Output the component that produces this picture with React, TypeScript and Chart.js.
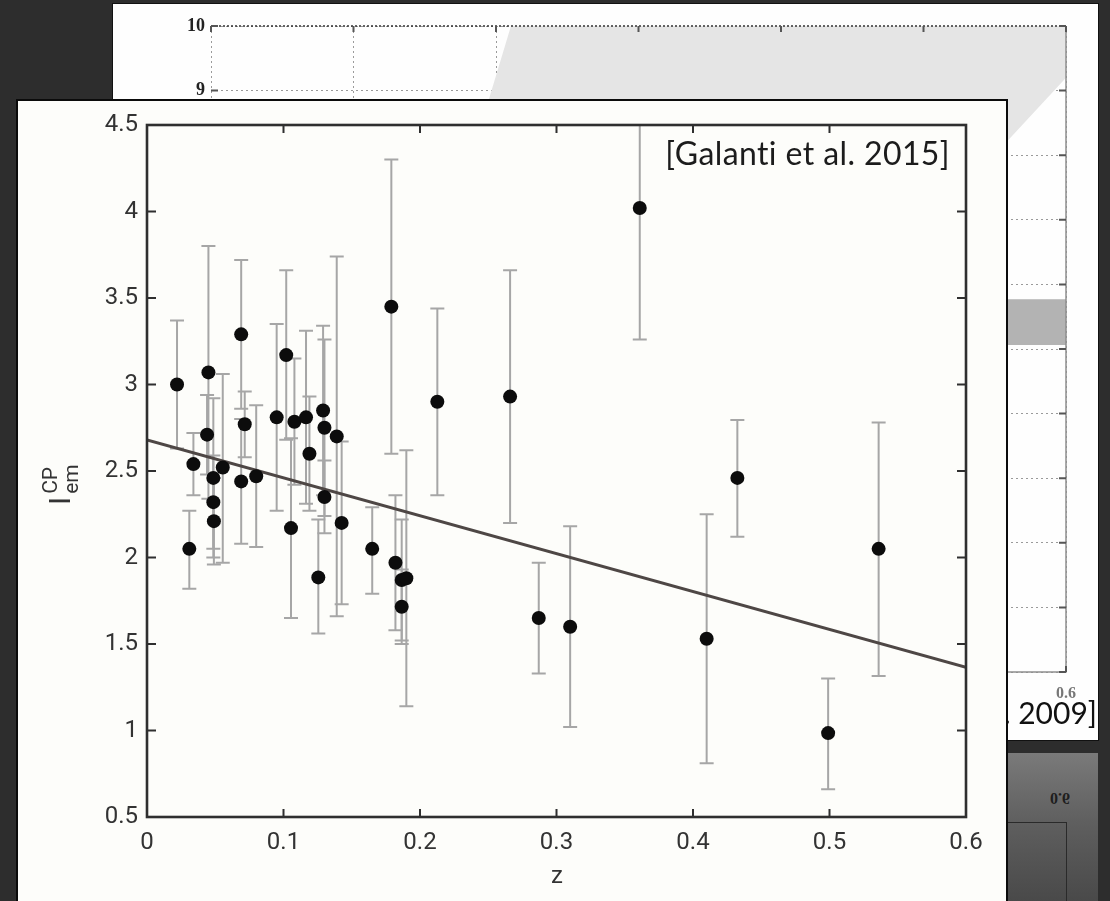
import React, { useEffect, useRef } from "react";
import { Chart, registerables } from "chart.js";

Chart.register(...registerables);

// ---------- main chart data (Galanti et al. 2015) ----------
const redshift = [0.022, 0.031, 0.034, 0.045, 0.044, 0.0486, 0.0486, 0.049, 0.0555, 0.069, 0.0716, 0.069, 0.080, 0.095, 0.102, 0.1055, 0.108, 0.1165, 0.119, 0.129, 0.130, 0.130, 0.139, 0.1426, 0.1255, 0.165, 0.182, 0.1866, 0.190, 0.1866, 0.179, 0.2127, 0.266, 0.361, 0.287, 0.310, 0.410, 0.4325, 0.499, 0.536];
const emissivity = [3.00, 2.05, 2.54, 3.07, 2.71, 2.46, 2.32, 2.21, 2.52, 3.29, 2.77, 2.44, 2.47, 2.81, 3.17, 2.17, 2.785, 2.81, 2.60, 2.85, 2.75, 2.35, 2.70, 2.20, 1.885, 2.05, 1.97, 1.87, 1.88, 1.715, 3.45, 2.90, 2.93, 4.02, 1.65, 1.60, 1.53, 2.46, 0.985, 2.05];
const errorHigh = [3.37, 2.27, 2.72, 3.80, 2.94, 2.92, 2.59, 2.46, 3.06, 3.72, 2.96, 2.80, 2.88, 3.35, 3.66, 2.69, 3.15, 3.31, 2.93, 3.34, 3.26, 2.56, 3.74, 2.67, 2.22, 2.29, 2.36, 2.22, 2.62, 1.93, 4.30, 3.44, 3.66, 4.78, 1.97, 2.18, 2.25, 2.795, 1.30, 2.78];
const errorLow = [2.63, 1.82, 2.36, 2.34, 2.48, 2.00, 2.05, 1.96, 1.97, 2.86, 2.58, 2.08, 2.06, 2.27, 2.68, 1.65, 2.42, 2.31, 2.27, 2.36, 2.24, 2.14, 1.66, 1.73, 1.56, 1.79, 1.58, 1.52, 1.14, 1.50, 2.60, 2.36, 2.20, 3.26, 1.33, 1.02, 0.81, 2.12, 0.66, 1.315];
const fitZ = [0, 0.6];
const fitEm = [2.68, 1.365];
const zTicks = [0, 0.1, 0.2, 0.3, 0.4, 0.5, 0.6];
const emTicks = [0.5, 1, 1.5, 2, 2.5, 3, 3.5, 4, 4.5];
const citationMain = "[Galanti et al. 2015]";
const xTitle = "z";

// ---------- background slide chart data ----------
const backZTicks = [0, 0.1, 0.2, 0.3, 0.4, 0.5, 0.6];
const backYTicks = [0, 1, 2, 3, 4, 5, 6, 7, 8, 9, 10];
const lightRegionZ = [0.2105, 0.6, 0.6, 0.561, 0.5, 0.25, 0.19, 0.2105];
const lightRegionY = [10, 10, 9.2, 8.27, 6.8, 6.8, 8.5, 10];
const bandZ = [0.45, 0.6, 0.6, 0.45, 0.45];
const bandY = [5.77, 5.77, 5.06, 5.06, 5.77];
const citationBack = "et al. 2009]";

const TICK_FONT = "Roboto, 'Liberation Sans', sans-serif";
const SERIF = "'Liberation Serif', 'DejaVu Serif', serif";

function MainChart() {
  const ref = useRef<HTMLCanvasElement>(null);
  useEffect(() => {
    const canvas = ref.current!;
    const errorBars = {
      id: "errorBars",
      beforeDatasetsDraw(chart: any) {
        const { ctx, chartArea, scales } = chart;
        const x = scales.x, y = scales.y;
        ctx.save();
        ctx.beginPath();
        ctx.rect(chartArea.left, chartArea.top, chartArea.right - chartArea.left, chartArea.bottom - chartArea.top);
        ctx.clip();
        ctx.strokeStyle = "#a6a6a6";
        ctx.lineWidth = 2;
        for (let i = 0; i < redshift.length; i++) {
          const px = x.getPixelForValue(redshift[i]);
          const top = y.getPixelForValue(errorHigh[i]);
          const bot = y.getPixelForValue(errorLow[i]);
          ctx.beginPath();
          ctx.moveTo(px, top); ctx.lineTo(px, bot);
          ctx.moveTo(px - 7, top); ctx.lineTo(px + 7, top);
          ctx.moveTo(px - 7, bot); ctx.lineTo(px + 7, bot);
          ctx.stroke();
        }
        ctx.restore();
      },
    };
    const frame = {
      id: "frame",
      afterDraw(chart: any) {
        const { ctx, chartArea, scales } = chart;
        const { left, right, top, bottom } = chartArea;
        const x = scales.x, y = scales.y;
        ctx.save();
        ctx.strokeStyle = "#2f2f2f";
        ctx.lineWidth = 2;
        for (const v of zTicks.slice(1, -1)) {
          const px = x.getPixelForValue(v);
          ctx.beginPath();
          ctx.moveTo(px, bottom); ctx.lineTo(px, bottom - 8);
          ctx.moveTo(px, top); ctx.lineTo(px, top + 8);
          ctx.stroke();
        }
        for (const v of emTicks.slice(1, -1)) {
          const py = y.getPixelForValue(v);
          ctx.beginPath();
          ctx.moveTo(left, py); ctx.lineTo(left + 9, py);
          ctx.moveTo(right, py); ctx.lineTo(right - 9, py);
          ctx.stroke();
        }
        ctx.lineWidth = 2.6;
        ctx.strokeRect(left, top, right - left, bottom - top);

        // x title
        ctx.fillStyle = "#333";
        ctx.font = `24px ${TICK_FONT}`;
        ctx.textAlign = "center";
        ctx.textBaseline = "alphabetic";
        ctx.fillText(xTitle, (left + right) / 2 + 0.5, 782);

        // y title: I_em^CP rotated
        ctx.save();
        ctx.translate(52, 404);
        ctx.rotate(-Math.PI / 2);
        ctx.textAlign = "left";
        ctx.font = `30px ${TICK_FONT}`;
        ctx.fillText("I", 0, 0);
        const w = ctx.measureText("I").width;
        ctx.font = `21px ${TICK_FONT}`;
        ctx.fillText("CP", w + 3, -13);
        ctx.fillText("em", w + 3, 8);
        ctx.restore();

        // citation
        ctx.fillStyle = "#1c1c1c";
        ctx.font = "32px Lato, 'Open Sans', sans-serif";
        (ctx as any).letterSpacing = "0.4px";
        ctx.textAlign = "right";
        ctx.fillText(citationMain, 932, 64);
        ctx.restore();
      },
    };
    const chart = new Chart(canvas, {
      type: "line",
      data: {
        datasets: [
          {
            label: "fit",
            data: fitZ.map((z, i) => ({ x: z, y: fitEm[i] })),
            borderColor: "#4e4745",
            borderWidth: 3,
            pointRadius: 0,
            fill: false,
            order: 2,
          },
          {
            label: "clusters",
            data: redshift.map((z, i) => ({ x: z, y: emissivity[i] })),
            showLine: false,
            pointRadius: 7,
            pointBackgroundColor: "#0c0c0c",
            pointBorderColor: "#0c0c0c",
            pointBorderWidth: 0,
            order: 1,
          },
        ],
      } as any,
      options: {
        animation: false,
        responsive: false,
        devicePixelRatio: 1,
        layout: { padding: { top: 24, right: 40, left: 0, bottom: 0 } },
        plugins: { legend: { display: false }, tooltip: { enabled: false } },
        scales: {
          x: {
            type: "linear",
            min: 0,
            max: 0.6,
            afterBuildTicks: (s: any) => { s.ticks = zTicks.map((v) => ({ value: v })); },
            afterFit: (s: any) => { s.height = 84; },
            grid: { display: false, drawTicks: false },
            border: { display: false },
            ticks: { font: { family: TICK_FONT, size: 24 }, color: "#333", padding: 12, maxRotation: 0, callback: (v: any) => String(v) },
          },
          y: {
            type: "linear",
            min: 0.5,
            max: 4.5,
            afterBuildTicks: (s: any) => { s.ticks = emTicks.map((v) => ({ value: v })); },
            afterFit: (s: any) => { s.width = 129; },
            grid: { display: false, drawTicks: false },
            border: { display: false },
            ticks: { font: { family: TICK_FONT, size: 24 }, color: "#333", padding: 9, callback: (v: any) => String(v) },
          },
        },
      } as any,
      plugins: [errorBars, frame],
    });
    return () => chart.destroy();
  }, []);
  return <canvas ref={ref} width={988} height={800} style={{ position: "absolute", left: 0, top: 0, width: 988, height: 800 }} />;
}

function BackChart() {
  const ref = useRef<HTMLCanvasElement>(null);
  useEffect(() => {
    const canvas = ref.current!;
    const backFrame = {
      id: "backFrame",
      afterDraw(chart: any) {
        const { ctx, chartArea, scales } = chart;
        const { left, right, top, bottom } = chartArea;
        ctx.save();
        ctx.strokeStyle = "#8f8f8f";
        ctx.lineWidth = 1.5;
        ctx.beginPath();
        ctx.moveTo(left, bottom); ctx.lineTo(right, bottom); ctx.lineTo(right, top);
        ctx.stroke();
        ctx.strokeStyle = "#333";
        ctx.setLineDash([2, 2]);
        ctx.beginPath();
        ctx.moveTo(left, top); ctx.lineTo(right, top);
        ctx.stroke();
        ctx.setLineDash([]);
        ctx.strokeStyle = "#555";
        ctx.lineWidth = 2;
        for (const v of backYTicks) {
          const py = scales.y.getPixelForValue(v);
          ctx.beginPath();
          ctx.moveTo(right, py); ctx.lineTo(right - 7, py);
          ctx.moveTo(left, py); ctx.lineTo(left + 7, py);
          ctx.stroke();
        }
        for (const v of backZTicks) {
          const px = scales.x.getPixelForValue(v);
          ctx.beginPath();
          ctx.moveTo(px, top); ctx.lineTo(px, top + 6);
          ctx.moveTo(px, bottom); ctx.lineTo(px, bottom - 6);
          ctx.stroke();
        }
        ctx.restore();
      },
    };
    const chart = new Chart(canvas, {
      type: "line",
      data: {
        datasets: [
          {
            data: lightRegionZ.map((z, i) => ({ x: z, y: lightRegionY[i] })),
            fill: "shape",
            backgroundColor: "#e5e5e5",
            borderColor: "transparent",
            borderWidth: 0,
            pointRadius: 0,
          },
          {
            data: bandZ.map((z, i) => ({ x: z, y: bandY[i] })),
            fill: "shape",
            backgroundColor: "#b3b3b3",
            borderColor: "transparent",
            borderWidth: 0,
            pointRadius: 0,
          },
        ],
      } as any,
      options: {
        animation: false,
        responsive: false,
        devicePixelRatio: 1,
        layout: { padding: { top: 22, right: 32, left: 0, bottom: 0 } },
        plugins: { legend: { display: false }, tooltip: { enabled: false } },
        scales: {
          x: {
            type: "linear",
            min: 0,
            max: 0.6,
            z: 1,
            afterBuildTicks: (s: any) => { s.ticks = backZTicks.map((v) => ({ value: v })); },
            afterFit: (s: any) => { s.height = 68; },
            grid: { color: "#9a9a9a", lineWidth: 1, drawTicks: false },
            border: { display: false, dash: [2, 3] },
            ticks: { font: { family: SERIF, size: 16, weight: "bold" }, color: "#777", padding: 12, maxRotation: 0, callback: (v: any) => String(v) },
          },
          y: {
            type: "linear",
            min: 0,
            max: 10,
            z: 1,
            afterBuildTicks: (s: any) => { s.ticks = backYTicks.map((v) => ({ value: v })); },
            afterFit: (s: any) => { s.width = 98; },
            grid: { color: "#9a9a9a", lineWidth: 1, drawTicks: false },
            border: { display: false, dash: [2, 3] },
            ticks: { font: { family: SERIF, size: 18, weight: "bold" }, color: "#222", padding: 6, callback: (v: any) => String(v) },
          },
        },
      } as any,
      plugins: [backFrame],
    });
    return () => chart.destroy();
  }, []);
  return <canvas ref={ref} width={985} height={736} style={{ position: "absolute", left: 0, top: 0, width: 985, height: 736 }} />;
}

export default function App() {
  return (
    <div style={{ position: "fixed", left: 0, top: 0, width: 1110, height: 901, overflow: "hidden", background: "#2d2d2d" }}>
      {/* background slide chart */}
      <div style={{ position: "absolute", left: 112, top: 3, width: 987, height: 738, background: "#fefefe", border: "1px solid #111", boxSizing: "border-box", overflow: "hidden" }}>
        <BackChart />
        <div style={{ position: "absolute", right: 1, top: 693, fontFamily: "Lato, 'Open Sans', sans-serif", fontSize: 30, lineHeight: "30px", color: "#111", whiteSpace: "nowrap", fontVariantLigatures: "none" }}>{citationBack}</div>
      </div>
      {/* lower right reflected panel */}
      <div style={{ position: "absolute", left: 1000, top: 753, width: 98, height: 160, background: "linear-gradient(180deg, #7a7a7a 0%, #5e5e5e 45%, #464646 100%)" }}>
        <div style={{ position: "absolute", left: 50, top: 36, fontFamily: SERIF, fontWeight: "bold", fontSize: 16, color: "#1e1e1e", transform: "scaleY(-1)" }}>0.6</div>
        <div style={{ position: "absolute", left: 0, top: 69, width: 66, height: 120, borderTop: "1px solid #2a2a2a", borderRight: "1px solid #2a2a2a" }} />
      </div>
      {/* main chart panel */}
      <div style={{ position: "absolute", left: 16, top: 99, width: 992, height: 820, background: "#fdfdfa", border: "2px solid #0b0b0b", boxSizing: "border-box" }}>
        <MainChart />
      </div>
    </div>
  );
}
